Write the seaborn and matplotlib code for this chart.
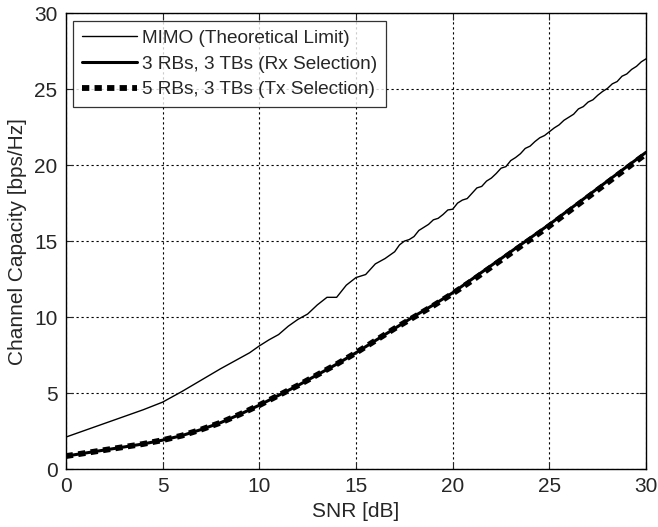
import numpy as np
import pandas as pd
import matplotlib
matplotlib.use("Agg")
import matplotlib.pyplot as plt
import seaborn as sns

# SNR grid for the smooth curves
snr = [0, 1, 2, 3, 4, 5, 6, 7, 8, 9, 10, 11, 12, 13, 14, 15,
       16, 17, 18, 19, 20, 21, 22, 23, 24, 25, 26, 27, 28, 29, 30]

rx_sel = [0.85, 1.05, 1.25, 1.45, 1.65, 1.9, 2.2, 2.6, 3.05, 3.6, 4.2,
          4.85, 5.5, 6.2, 6.9, 7.65, 8.45, 9.25, 10.05, 10.8, 11.6,
          12.5, 13.4, 14.3, 15.2, 16.1, 17.05, 18.0, 18.95, 19.9, 20.85]

tx_sel = [0.85, 1.05, 1.25, 1.45, 1.65, 1.9, 2.2, 2.6, 3.05, 3.6, 4.2,
          4.85, 5.5, 6.2, 6.9, 7.65, 8.45, 9.25, 10.0, 10.75, 11.55,
          12.4, 13.3, 14.2, 15.1, 16.0, 16.95, 17.9, 18.85, 19.8, 20.75]

# MIMO theoretical limit (wiggly, read at finer steps)
snr_mimo = [0, 1, 2, 3, 4, 5, 6, 7, 8, 9, 9.5, 10, 10.5, 11, 11.5, 12,
            12.5, 13, 13.5, 14, 14.5, 15, 15.5, 16, 16.5,
            17.0, 17.25, 17.5, 17.75, 18.0, 18.25, 18.5, 18.75, 19.0,
            19.25, 19.5, 19.75, 20.0, 20.25, 20.5, 20.75, 21.0, 21.25,
            21.5, 21.75, 22.0, 22.25, 22.5, 22.75, 23.0, 23.25, 23.5,
            23.75, 24.0, 24.25, 24.5, 24.75, 25.0, 25.25, 25.5, 25.75,
            26.0, 26.25, 26.5, 26.75, 27.0, 27.25, 27.5, 27.75, 28.0,
            28.25, 28.5, 28.75, 29.0, 29.25, 29.5, 29.75, 30.0]
mimo = [2.1, 2.55, 3.0, 3.45, 3.9, 4.4, 5.1, 5.85, 6.6, 7.3, 7.65, 8.1,
        8.5, 8.85, 9.4, 9.85, 10.2, 10.8, 11.3, 11.3, 12.1, 12.6, 12.8,
        13.5, 13.85,
        14.3, 14.75, 15.0, 15.1, 15.3, 15.7, 15.9, 16.1, 16.4,
        16.5, 16.75, 17.05, 17.1, 17.5, 17.7, 17.8, 18.15, 18.5,
        18.6, 18.95, 19.15, 19.45, 19.8, 19.9, 20.3, 20.5, 20.75,
        21.1, 21.25, 21.55, 21.8, 21.95, 22.2, 22.45, 22.65, 22.95,
        23.15, 23.35, 23.7, 23.85, 24.15, 24.3, 24.6, 24.85, 25.05,
        25.35, 25.5, 25.85, 26.0, 26.3, 26.5, 26.8, 27.0]

labels = ["MIMO (Theoretical Limit)",
          "3 RBs, 3 TBs (Rx Selection)",
          "5 RBs, 3 TBs (Tx Selection)"]

sns.set_style("white")
plt.rcParams["font.family"] = ["Liberation Sans", "DejaVu Sans"]

fig = plt.figure(figsize=(6.58, 5.27), dpi=100)
ax = fig.add_axes([0.1, 0.11, 0.882, 0.865])

df_mimo = pd.DataFrame({"snr": snr_mimo, "cap": mimo})
df_rx = pd.DataFrame({"snr": snr, "cap": rx_sel})
df_tx = pd.DataFrame({"snr": snr, "cap": tx_sel})

sns.lineplot(data=df_mimo, x="snr", y="cap", ax=ax, color="black",
             linewidth=1.0, label=labels[0])
sns.lineplot(data=df_rx, x="snr", y="cap", ax=ax, color="black",
             linewidth=2.2, label=labels[1])
sns.lineplot(data=df_tx, x="snr", y="cap", ax=ax, color="black",
             linewidth=4.2, label=labels[2], dashes=False)
ax.lines[2].set_dashes((1.25, 0.9))

ax.set_xlim(0, 30)
ax.set_ylim(0, 30)
ax.set_xticks(range(0, 31, 5))
ax.set_yticks(range(0, 31, 5))
ax.set_xlabel("SNR [dB]", fontsize=15, labelpad=4)
ax.set_ylabel("Channel Capacity [bps/Hz]", fontsize=15, labelpad=5)
ax.tick_params(direction="in", length=5, width=0.8, labelsize=15,
               top=True, right=True, bottom=True, left=True, pad=6)
ax.grid(True, color="black", linestyle=(0, (2, 2.5)), linewidth=0.8)
for s in ax.spines.values():
    s.set_color("black")
    s.set_linewidth(1.0)

leg = ax.legend(loc="upper left", fontsize=13.7, frameon=True,
                fancybox=False, edgecolor="black", handlelength=2.9,
                borderaxespad=0.4, labelspacing=0.45, handletextpad=0.25,
                borderpad=0.45)
leg.get_frame().set_linewidth(0.9)

fig.savefig("out.png", dpi=100, facecolor="white")
